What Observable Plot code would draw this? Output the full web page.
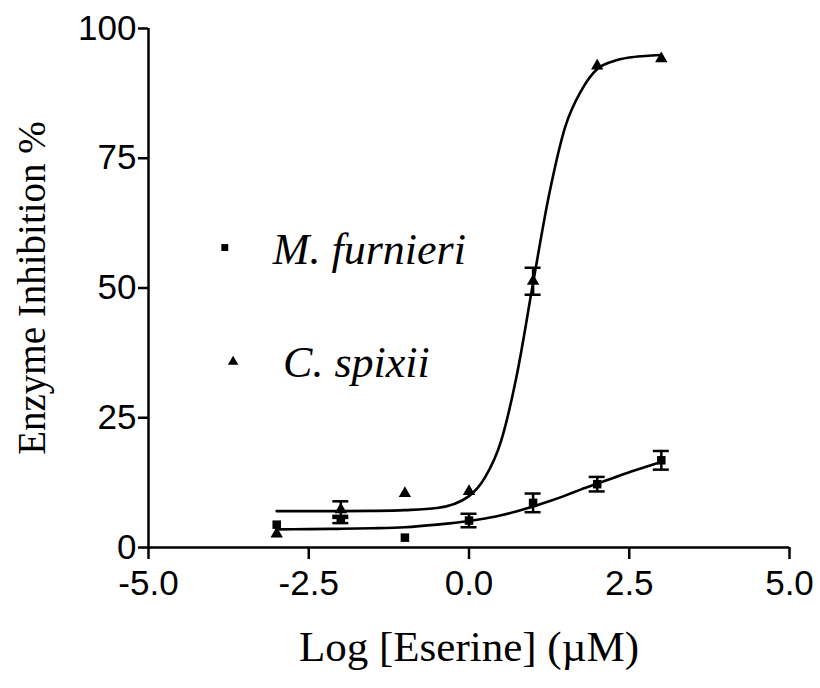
<!DOCTYPE html>
<html>
<head>
<meta charset="utf-8">
<script src="https://cdn.jsdelivr.net/npm/d3@7"></script>
<script src="https://cdn.jsdelivr.net/npm/@observablehq/plot@0.6"></script>
<style>
  html, body { margin: 0; padding: 0; background: #fff; }
</style>
</head>
<body>
<div id="chart"></div>
<script>
// Measured points
const doses = [-3, -2, -1, 0, 1, 2, 3];
const furnieri = [4.4, 5.4, 1.9, 5.2, 8.6, 12.2, 16.8];
const furnieriErr = [0, 0.7, 0, 1.3, 1.8, 1.4, 1.8];
const spixii = [2.6, 7.3, 10.4, 10.8, 51.3, 92.8, 94.2];
const spixiiErr = [0, 1.6, 0, 0, 2.6, 0, 0];

// Fitted curves
const fitX = [-3, -2.5, -2, -1.5, -1, -0.5, 0, 0.25, 0.5, 0.75, 1, 1.25, 1.5, 1.75, 2, 2.25, 2.5, 2.75, 3];
const furnieriFit = [3.5, 3.55, 3.6, 3.7, 3.9, 4.4, 5.1, 5.6, 6.2, 7.0, 7.9, 8.9, 10.0, 11.2, 12.3, 13.4, 14.5, 15.5, 16.5];
const spixiiFit = [7.0, 7.0, 7.0, 7.05, 7.2, 7.6, 9.9, 13.5, 20.5, 33.5, 51, 68, 81, 88, 92.2, 93.7, 94.4, 94.7, 94.9];

const xTicks = [-5, -2.5, 0, 2.5, 5];
const yTicks = [0, 25, 50, 75, 100];
const seriesNames = ["M. furnieri", "C. spixii"];

const pts = [
  ...doses.map((d, i) => ({x: d, y: furnieri[i], e: furnieriErr[i], s: seriesNames[0]})),
  ...doses.map((d, i) => ({x: d, y: spixii[i], e: spixiiErr[i], s: seriesNames[1]}))
];
const errs = pts.filter(d => d.e > 0);
const fitFur = fitX.map((x, i) => ({x, y: furnieriFit[i]}));
const fitSpi = fitX.map((x, i) => ({x, y: spixiiFit[i]}));

const legend = [
  {x: -3.81, y: 57.8, tx: -3.06, ty: 57.3, s: seriesNames[0], sym: "square"},
  {x: -3.68, y: 35.8, tx: -2.9, ty: 35.6, s: seriesNames[1], sym: "triangle"}
];

const serif = "Liberation Serif, Times New Roman, serif";
const sans = "Liberation Sans, Arial, sans-serif";

const chart = Plot.plot({
  width: 820,
  height: 688,
  marginLeft: 148,
  marginRight: 31,
  marginTop: 28,
  marginBottom: 141,
  style: {fontFamily: sans, fontSize: "35px", color: "#000", background: "#fff"},
  x: {domain: [-5, 5]},
  y: {domain: [0, 100]},
  marks: [
    Plot.axisX({ticks: xTicks, tickSize: 12, tickPadding: 11, strokeWidth: 2.5, tickFormat: d => d.toFixed(1), label: null}),
    Plot.axisY({ticks: yTicks, tickSize: 10, tickPadding: 2, strokeWidth: 2.5, tickFormat: d => String(d), label: null}),
    Plot.ruleY([0], {strokeWidth: 2.5}),
    Plot.ruleX([-5], {strokeWidth: 2.5}),
    Plot.line(fitFur, {x: "x", y: "y", curve: "monotone-x", strokeWidth: 2.6, stroke: "#000"}),
    Plot.line(fitSpi, {x: "x", y: "y", curve: "monotone-x", strokeWidth: 2.6, stroke: "#000"}),
    Plot.ruleX(errs, {x: "x", y1: d => d.y - d.e, y2: d => d.y + d.e, strokeWidth: 2.5}),
    Plot.ruleY(errs, {x1: "x", x2: "x", y: d => d.y - d.e, insetLeft: -8, insetRight: -8, strokeWidth: 2.5}),
    Plot.ruleY(errs, {x1: "x", x2: "x", y: d => d.y + d.e, insetLeft: -8, insetRight: -8, strokeWidth: 2.5}),
    Plot.dot(pts.filter(d => d.s === seriesNames[0]), {x: "x", y: "y", symbol: "square", r: 4.8, fill: "#000", stroke: null}),
    Plot.dot(pts.filter(d => d.s === seriesNames[1]), {x: "x", y: "y", symbol: "triangle", r: 4.6, fill: "#000", stroke: null}),
    Plot.dot(legend, {x: "x", y: "y", symbol: "sym", r: 3.9, fill: "#000", stroke: null}),
    Plot.text(legend, {x: "tx", y: "ty", text: "s", textAnchor: "start", fontFamily: serif, fontStyle: "italic", fontSize: 44, fill: "#000"}),
    Plot.text(["Log [Eserine] (\u00b5M)"], {frameAnchor: "bottom", dy: 113, textAnchor: "middle", fontFamily: serif, fontSize: 43, fill: "#000"}),
    Plot.text(["Enzyme Inhibition %"], {frameAnchor: "left", dx: -116, textAnchor: "middle", rotate: -90, fontFamily: serif, fontSize: 39, fill: "#000"})
  ]
});
document.getElementById("chart").appendChild(chart);
</script>
</body>
</html>
